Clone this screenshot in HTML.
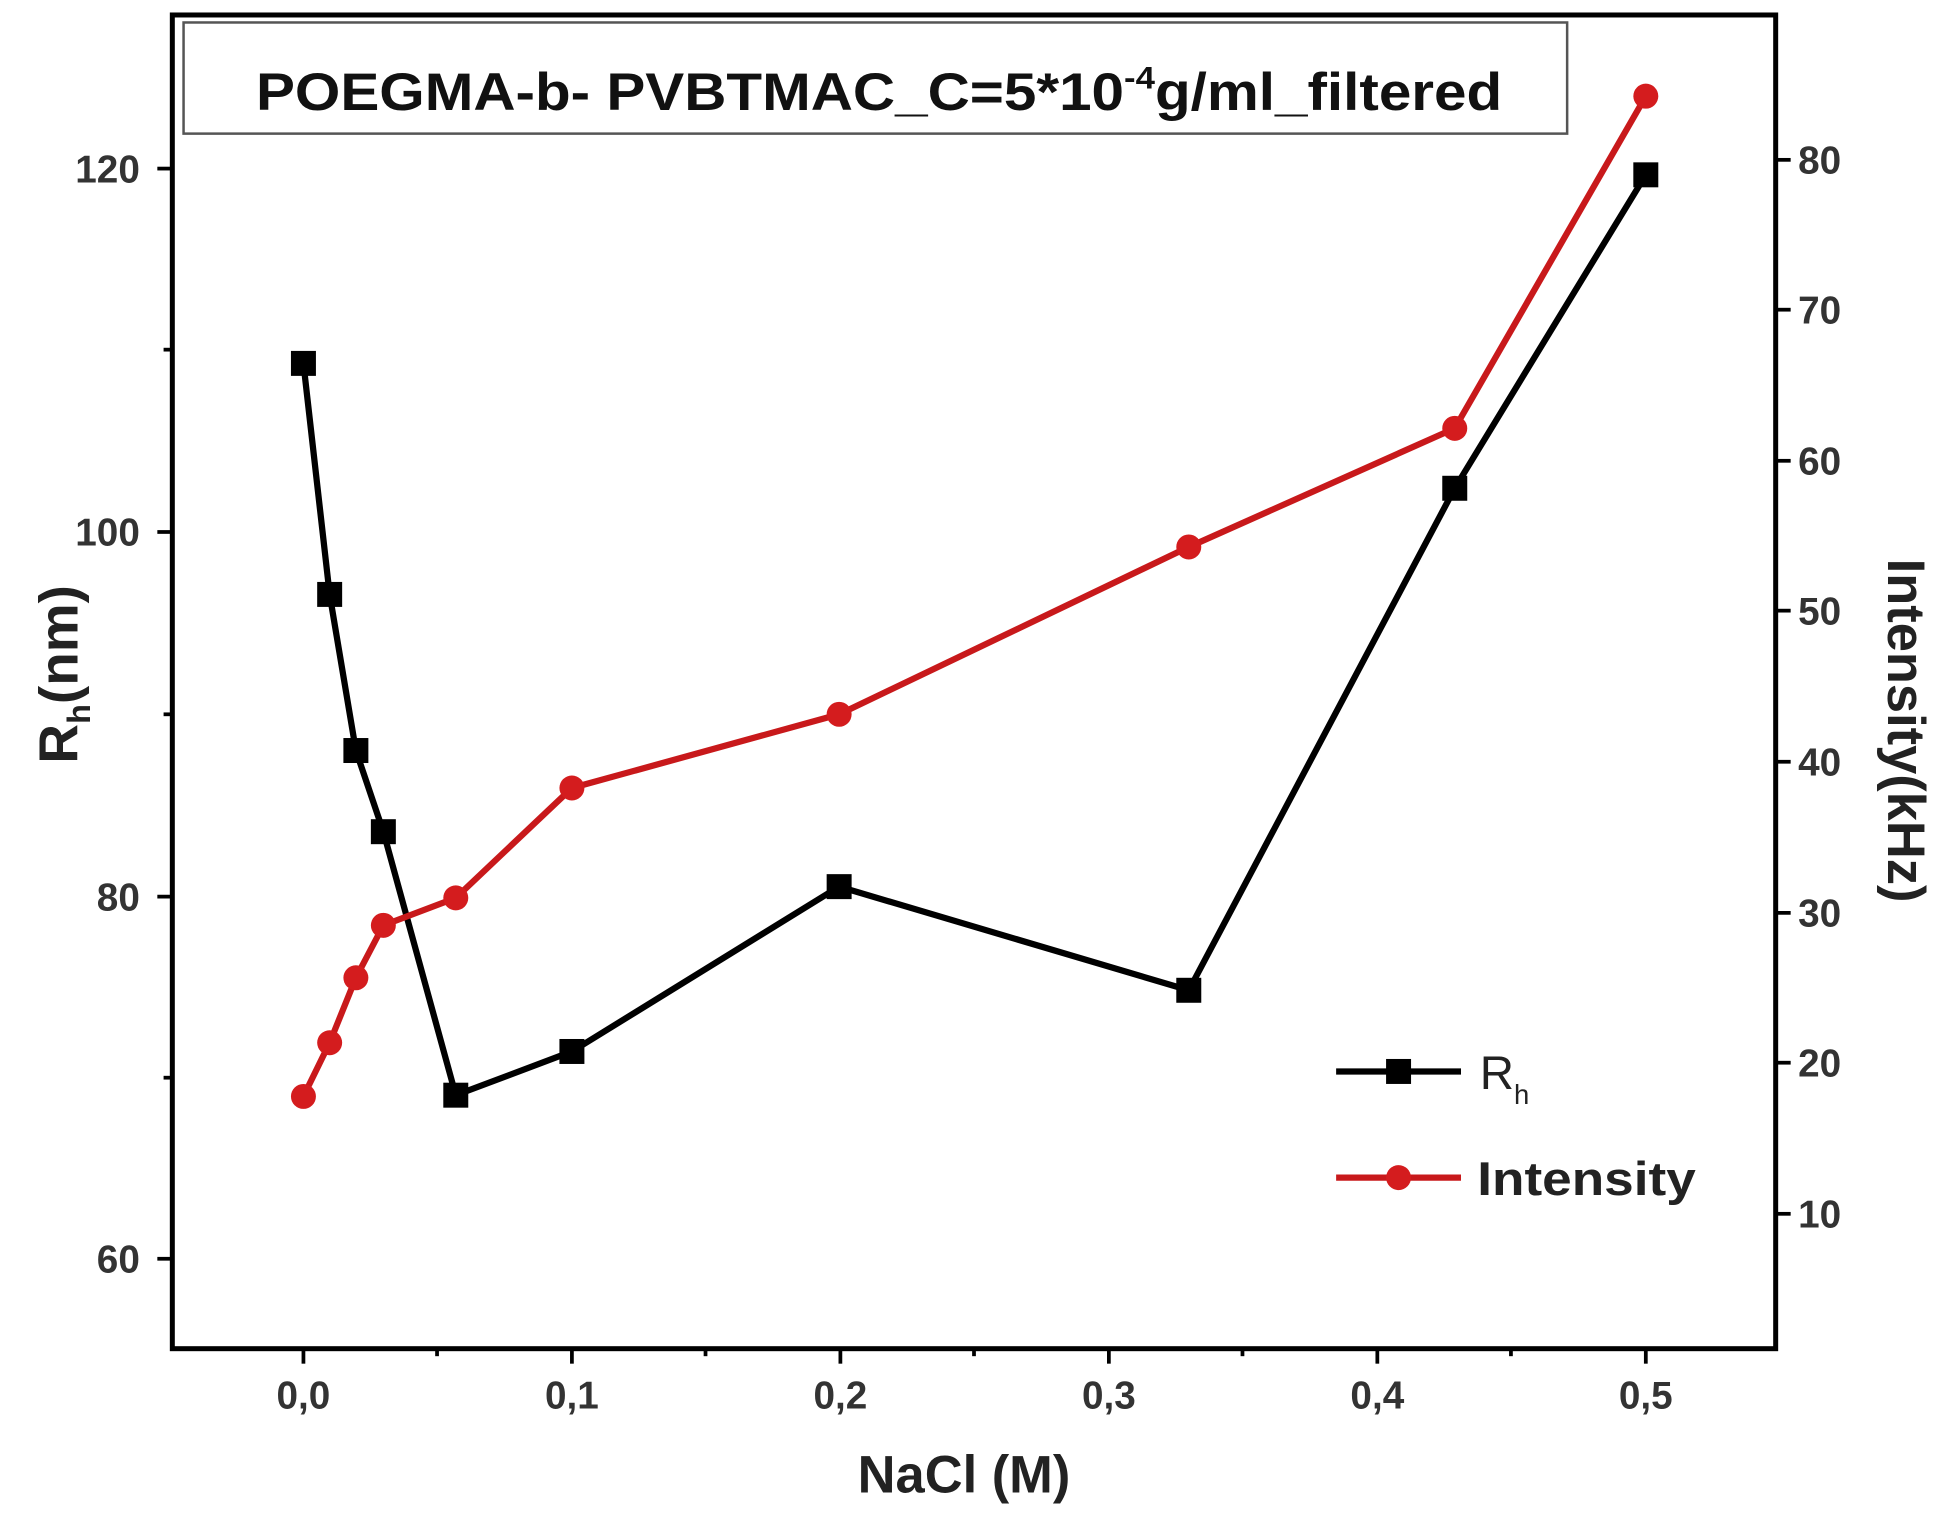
<!DOCTYPE html><html><head><style>html,body{margin:0;padding:0;background:#fff}svg{display:block}</style></head><body>
<svg width="1948" height="1536" viewBox="0 0 1560 1230" preserveAspectRatio="none" xmlns="http://www.w3.org/2000/svg" font-family="Liberation Sans, sans-serif" font-weight="bold">
<rect x="138" y="12" width="1284" height="1068" fill="none" stroke="#000" stroke-width="4"/>
<rect x="147" y="18" width="1108" height="89" fill="#fff" stroke="#555" stroke-width="2"/>
<text x="205" y="88" font-size="42" textLength="998" lengthAdjust="spacingAndGlyphs" font-weight="bold" fill="#111">POEGMA-b- PVBTMAC_C=5*10<tspan dy="-17" font-size="25">-4</tspan><tspan dy="17">g/ml_filtered</tspan></text>
<g stroke="#000" stroke-width="3">
<line x1="138" y1="135" x2="126" y2="135"/><line x1="138" y1="426" x2="126" y2="426"/><line x1="138" y1="718" x2="126" y2="718"/><line x1="138" y1="1008" x2="126" y2="1008"/>
<line x1="138" y1="280" x2="131" y2="280"/><line x1="138" y1="572" x2="131" y2="572"/><line x1="138" y1="863" x2="131" y2="863"/>
<line x1="243" y1="1080" x2="243" y2="1092"/><line x1="458" y1="1080" x2="458" y2="1092"/><line x1="673" y1="1080" x2="673" y2="1092"/><line x1="888" y1="1080" x2="888" y2="1092"/><line x1="1103" y1="1080" x2="1103" y2="1092"/><line x1="1318" y1="1080" x2="1318" y2="1092"/>
<line x1="350" y1="1080" x2="350" y2="1086"/><line x1="565" y1="1080" x2="565" y2="1086"/><line x1="780" y1="1080" x2="780" y2="1086"/><line x1="995" y1="1080" x2="995" y2="1086"/><line x1="1210" y1="1080" x2="1210" y2="1086"/>
<line x1="1422" y1="128" x2="1434" y2="128"/><line x1="1422" y1="248" x2="1434" y2="248"/><line x1="1422" y1="369" x2="1434" y2="369"/><line x1="1422" y1="489" x2="1434" y2="489"/><line x1="1422" y1="610" x2="1434" y2="610"/><line x1="1422" y1="731" x2="1434" y2="731"/><line x1="1422" y1="851" x2="1434" y2="851"/><line x1="1422" y1="972" x2="1434" y2="972"/>
</g>
<g font-size="31" fill="#333" text-anchor="end">
<text x="112" y="146">120</text><text x="112" y="437">100</text><text x="112" y="729">80</text><text x="112" y="1019">60</text>
</g>
<g font-size="31" fill="#333">
<text x="1440" y="139">80</text><text x="1440" y="259">70</text><text x="1440" y="380">60</text><text x="1440" y="500">50</text><text x="1440" y="621">40</text><text x="1440" y="742">30</text><text x="1440" y="862">20</text><text x="1440" y="983">10</text>
</g>
<g font-size="31" fill="#333" text-anchor="middle">
<text x="243" y="1128">0,0</text><text x="458" y="1128">0,1</text><text x="673" y="1128">0,2</text><text x="888" y="1128">0,3</text><text x="1103" y="1128">0,4</text><text x="1318" y="1128">0,5</text>
</g>
<text x="772" y="1195" font-size="42" text-anchor="middle" fill="#222">NaCl (M)</text>
<text transform="translate(62,540) rotate(-90)" font-size="44" text-anchor="middle" fill="#222">R<tspan font-size="26" dy="10">h</tspan><tspan dy="-10">(nm)</tspan></text>
<text transform="translate(1512,585) rotate(90)" font-size="42" text-anchor="middle" fill="#222">Intensity(kHz)</text>
<polyline fill="none" stroke="#000" stroke-width="5" points="243,291 264,476 285,601 307,666 365,877 458,842 672,710 952,793 1165,391 1318,140"/>
<g fill="#000">
<rect x="233" y="281" width="20" height="20"/><rect x="254" y="466" width="20" height="20"/><rect x="275" y="591" width="20" height="20"/><rect x="297" y="656" width="20" height="20"/><rect x="355" y="867" width="20" height="20"/><rect x="448" y="832" width="20" height="20"/><rect x="662" y="700" width="20" height="20"/><rect x="942" y="783" width="20" height="20"/><rect x="1155" y="381" width="20" height="20"/><rect x="1308" y="130" width="20" height="20"/>
</g>
<polyline fill="none" stroke="#c8191b" stroke-width="5" points="243,878 264,835 285,783 307,741 365,719 458,631 672,572 952,438 1165,343 1318,77"/>
<g fill="#d41c1e">
<circle cx="243" cy="878" r="10"/><circle cx="264" cy="835" r="10"/><circle cx="285" cy="783" r="10"/><circle cx="307" cy="741" r="10"/><circle cx="365" cy="719" r="10"/><circle cx="458" cy="631" r="10"/><circle cx="672" cy="572" r="10"/><circle cx="952" cy="438" r="10"/><circle cx="1165" cy="343" r="10"/><circle cx="1318" cy="77" r="10"/>
</g>
<line x1="1070" y1="858" x2="1170" y2="858" stroke="#000" stroke-width="5"/><rect x="1110" y="848" width="20" height="20" fill="#000"/>
<text x="1185" y="872" font-size="38" fill="#222" font-weight="normal">R<tspan font-size="22" dy="12">h</tspan></text>
<line x1="1070" y1="943" x2="1170" y2="943" stroke="#c8191b" stroke-width="5"/><circle cx="1120" cy="943" r="10" fill="#d41c1e"/>
<text x="1183" y="957" font-size="38" fill="#222" textLength="175" lengthAdjust="spacingAndGlyphs">Intensity</text>
</svg>
</body></html>
